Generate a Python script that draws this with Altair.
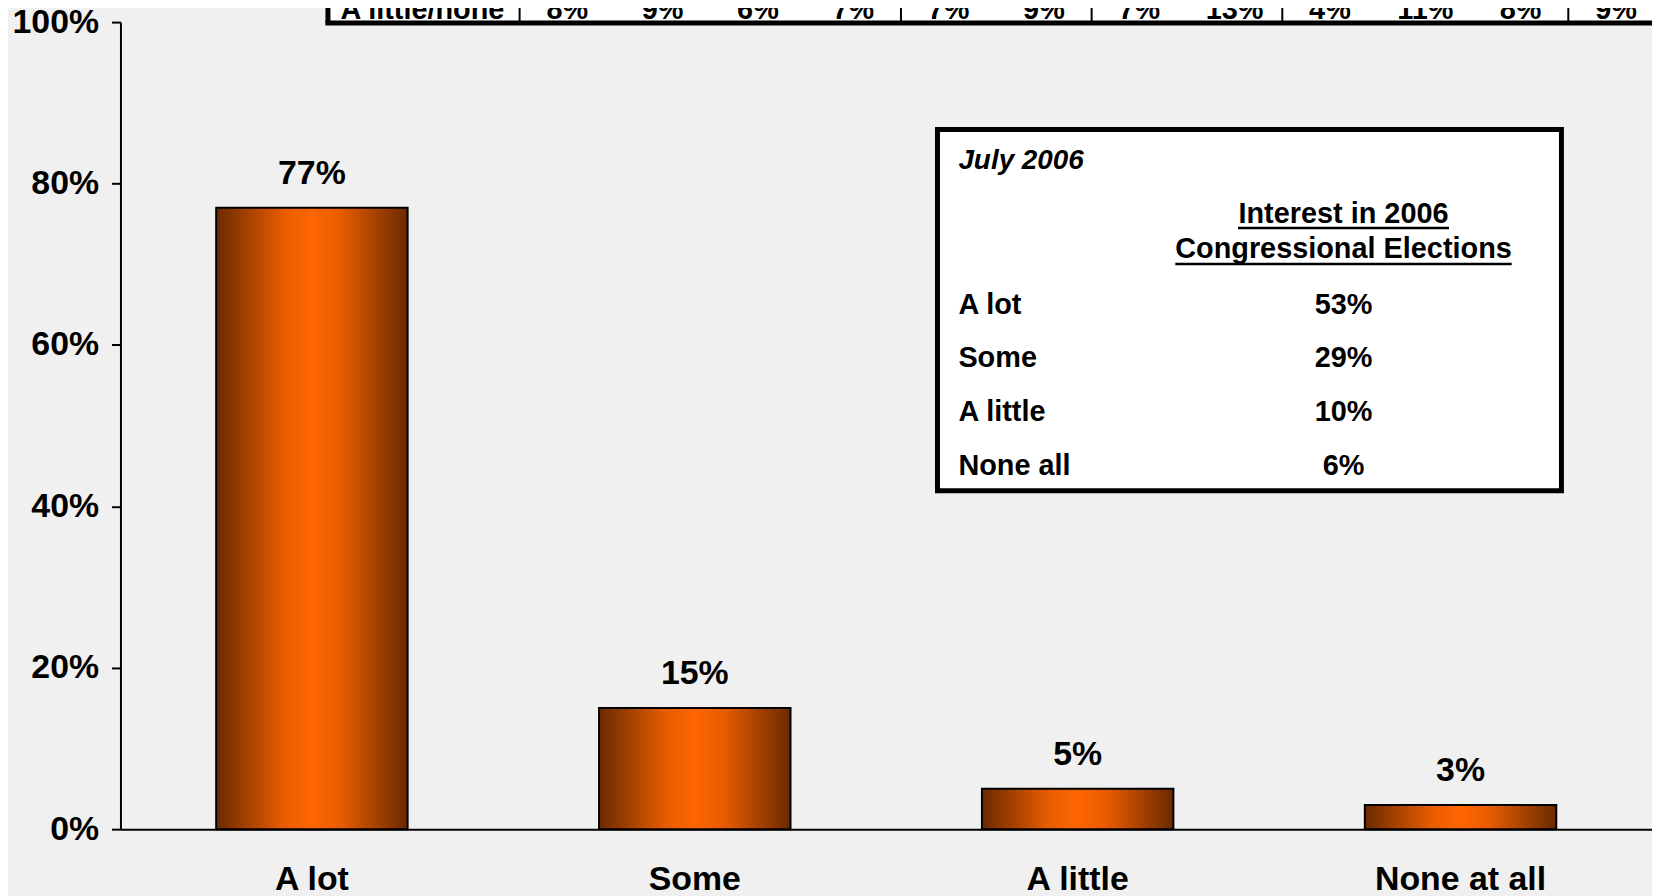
import altair as alt
import pandas as pd

# ---------------- data ----------------
categories = ["A lot", "Some", "A little", "None at all"]
values = [77, 15, 5, 3]

inset_title = ["July 2006"]
inset_header = ["Interest in 2006", "Congressional Elections"]
inset_labels = ["A lot", "Some", "A little", "None all"]
inset_values = [53, 29, 10, 6]

top_row_label = ["A little/none"]
top_row_values = [8, 9, 6, 7, 7, 9, 7, 13, 4, 11, 8, 9]
top_group_starts = [0, 4, 6, 8, 11]

FONT = "Liberation Sans"
BG = "#F0F0F0"

bars_df = pd.DataFrame({"cat": categories, "val": values})
inset_df = pd.DataFrame({"label": inset_labels, "val": inset_values, "row": list(range(len(inset_labels)))})
header_df = pd.DataFrame({"txt": inset_header, "row": list(range(len(inset_header)))})
title_df = pd.DataFrame({"txt": inset_title})
top_df = pd.DataFrame({"val": top_row_values, "col": list(range(len(top_row_values)))})
toplabel_df = pd.DataFrame({"txt": top_row_label})
sep_df = pd.DataFrame({"col": top_group_starts})
one = pd.DataFrame({"k": [0]})

gradient = alt.Gradient(
    gradient="linear",
    stops=[
        alt.GradientStop(color="#6A2A00", offset=0),
        alt.GradientStop(color="#E85C00", offset=0.35),
        alt.GradientStop(color="#FF6600", offset=0.5),
        alt.GradientStop(color="#E85C00", offset=0.65),
        alt.GradientStop(color="#6A2A00", offset=1),
    ],
    x1=0, x2=1, y1=0, y2=0,
)

x_enc = alt.X(
    "cat:N", sort=categories,
    scale=alt.Scale(paddingInner=0.5, paddingOuter=0.25),
    axis=alt.Axis(title=None, labelAngle=0, labelFont=FONT, labelFontSize=34,
                  labelFontWeight="bold", labelColor="black", ticks=False, tickSize=0,
                  labelPadding=34, domainColor="black", domainWidth=2, grid=False),
)
y_enc = alt.Y(
    "val:Q",
    scale=alt.Scale(domain=[0, 100], nice=False),
    axis=alt.Axis(title=None, values=[0, 20, 40, 60, 80, 100], labelExpr="datum.value + '%'",
                  labelFont=FONT, labelFontSize=34, labelFontWeight="bold", labelColor="black",
                  tickColor="black", tickSize=9, tickWidth=2, domainColor="black", domainWidth=2,
                  labelPadding=13, grid=False),
)

bars = alt.Chart(bars_df).mark_bar(fill=gradient, stroke="black", strokeWidth=2).encode(x=x_enc, y=y_enc)

bar_labels = alt.Chart(bars_df).transform_calculate(lbl="datum.val + '%'").mark_text(
    dy=-24, baseline="alphabetic", font=FONT, fontSize=34, fontWeight="bold", color="black"
).encode(x=alt.X("cat:N", sort=categories), y=alt.Y("val:Q"), text="lbl:N")

# ---------------- inset box ----------------
inset_box = alt.Chart(one).mark_rect(fill="white", stroke="black", strokeWidth=5).encode(
    x=alt.value(821), x2=alt.value(1448), y=alt.value(108), y2=alt.value(471)
)
inset_title_t = alt.Chart(title_df).mark_text(
    align="left", baseline="alphabetic", font=FONT, fontSize=28, fontWeight="bold",
    fontStyle="italic", color="black"
).encode(x=alt.value(842), y=alt.value(148), text="txt:N")

inset_header_t = alt.Chart(header_df).transform_calculate(py="202 + 35*datum.row").mark_text(
    align="center", baseline="alphabetic", font=FONT, fontSize=29, fontWeight="bold", color="black"
).encode(x=alt.value(1229), y=alt.Y("py:Q", scale=None), text="txt:N")

ul1 = alt.Chart(one).mark_rule(color="black", strokeWidth=2.5).encode(
    x=alt.value(1123), x2=alt.value(1335), y=alt.value(207))
ul2 = alt.Chart(one).mark_rule(color="black", strokeWidth=2.5).encode(
    x=alt.value(1060), x2=alt.value(1398), y=alt.value(243))

inset_lbl = alt.Chart(inset_df).transform_calculate(py="293 + 54*datum.row").mark_text(
    align="left", baseline="alphabetic", font=FONT, fontSize=29, fontWeight="bold", color="black"
).encode(x=alt.value(842), y=alt.Y("py:Q", scale=None), text="label:N")

inset_val = alt.Chart(inset_df).transform_calculate(
    py="293 + 54*datum.row", lbl="datum.val + '%'"
).mark_text(
    align="center", baseline="alphabetic", font=FONT, fontSize=29, fontWeight="bold", color="black"
).encode(x=alt.value(1229), y=alt.Y("py:Q", scale=None), text="lbl:N")

# ---------------- top (cut-off) table ----------------
top_fill = alt.Chart(one).mark_rect(fill="white").encode(
    x=alt.value(211), x2=alt.value(1545), y=alt.value(-20), y2=alt.value(-1))
top_bottom = alt.Chart(one).mark_rule(color="black", strokeWidth=5).encode(
    x=alt.value(206), x2=alt.value(1545), y=alt.value(1))
top_left = alt.Chart(one).mark_rule(color="black", strokeWidth=5).encode(
    x=alt.value(208.5), y=alt.value(-20), y2=alt.value(1))
top_seps = alt.Chart(sep_df).transform_calculate(px="449 + 95.8*(datum.col - 0.5)").mark_rule(
    color="black", strokeWidth=2
).encode(x=alt.X("px:Q", scale=None), y=alt.value(-20), y2=alt.value(0))
top_lbl = alt.Chart(toplabel_df).mark_text(
    align="left", baseline="alphabetic", font=FONT, fontSize=29, fontWeight="bold", color="black"
).encode(x=alt.value(221), y=alt.value(-3), text="txt:N")
top_vals = alt.Chart(top_df).transform_calculate(
    px="449 + 95.8*datum.col", lbl="datum.val + '%'"
).mark_text(
    align="center", baseline="alphabetic", font=FONT, fontSize=29, fontWeight="bold", color="black"
).encode(x=alt.X("px:Q", scale=None), y=alt.value(-3), text="lbl:N")

chart = alt.layer(
    bars, bar_labels,
    inset_box, inset_title_t, inset_header_t, ul1, ul2, inset_lbl, inset_val,
    top_fill, top_bottom, top_left, top_seps, top_lbl, top_vals,
).properties(
    width=1539, height=811,
    autosize=alt.AutoSizeParams(type="none"),
    padding={"left": 113, "top": 12, "right": 0, "bottom": 65},
).configure(background=BG).configure_view(stroke=None)

chart.save("out.html", embed_options={"renderer": "svg", "actions": False})
